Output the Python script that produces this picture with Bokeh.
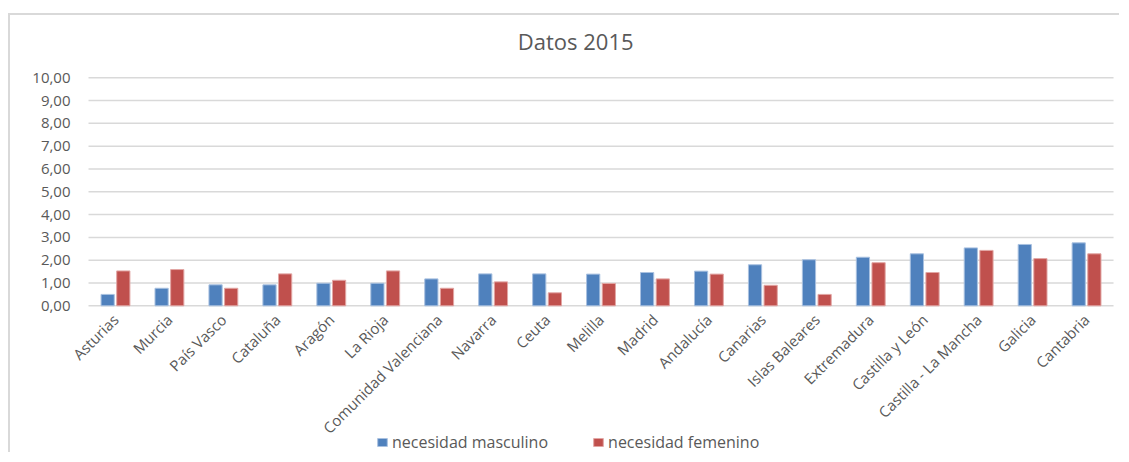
import math
from bokeh.plotting import figure
from bokeh.models import (ColumnDataSource, Legend, LegendItem, FixedTicker,
                          CustomJSTickFormatter, Range1d)
from bokeh.core.properties import value
from bokeh.transform import dodge
from bokeh.embed import file_html
from bokeh.resources import INLINE

categories = ["Asturias", "Murcia", "País Vasco", "Cataluña", "Aragón", "La Rioja",
              "Comunidad Valenciana", "Navarra", "Ceuta", "Melilla", "Madrid",
              "Andalucía", "Canarias", "Islas Baleares", "Extremadura",
              "Castilla y León", "Castilla - La Mancha", "Galicia", "Cantabria"]
masculino = [0.50, 0.77, 0.92, 0.92, 0.99, 0.99, 1.18, 1.40, 1.40, 1.39, 1.46,
             1.52, 1.80, 2.02, 2.13, 2.28, 2.54, 2.69, 2.76]
femenino = [1.53, 1.59, 0.77, 1.40, 1.12, 1.53, 0.77, 1.05, 0.57, 0.98, 1.18,
            1.39, 0.90, 0.50, 1.89, 1.46, 2.43, 2.07, 2.28]
y_ticks = [0, 1, 2, 3, 4, 5, 6, 7, 8, 9, 10]
series_names = ["necesidad masculino", "necesidad femenino"]
title_text = "Datos 2015"

n = len(categories)
pos = [i + 0.5 for i in range(n)]          # category slot centres
source = ColumnDataSource(dict(cat=categories, pos=pos, m=masculino, f=femenino))
grid_src = ColumnDataSource(dict(y=y_ticks, x0=[0] * len(y_ticks), x1=[n] * len(y_ticks)))

FONT = "Open Sans"
GREY = "#595959"
GRID = "#d9d9d9"

# frame covers the whole canvas; categories occupy 0..19, value 0..10 over 228 px
p = figure(x_range=Range1d(-1.446, 19.148), y_range=Range1d(-6.52, 12.73),
           width=1111, height=439, output_backend="svg", toolbar_location=None,
           min_border_left=0, min_border_right=0, min_border_top=0,
           min_border_bottom=0, margin=(13, 0, 0, 8))
p.styles = {"border-top": "2px solid #d9d9d9", "border-left": "2px solid #d9d9d9"}

# horizontal gridlines (behind the bars)
p.segment(x0="x0", x1="x1", y0="y", y1="y", source=grid_src,
          line_color=GRID, line_width=1.5)

r1 = p.vbar(x=dodge("pos", -0.145), top="m", width=0.245, source=source,
            fill_color="#4F81BD", line_color="#a9c1e0", line_width=1)
r2 = p.vbar(x=dodge("pos", 0.145), top="f", width=0.245, source=source,
            fill_color="#C0504D", line_color="#e2a6a4", line_width=1)

# chart title
p.text(x=[9.03], y=[11.59], text=[title_text], text_align="center",
       text_baseline="middle", text_font=value(FONT), text_font_size="22px",
       text_color=GREY)

p.outline_line_color = None
p.xgrid.visible = False
p.ygrid.visible = False

p.yaxis.fixed_location = 0
p.yaxis.ticker = FixedTicker(ticks=y_ticks)
p.yaxis.formatter = CustomJSTickFormatter(code="return tick.toFixed(2).replace('.', ',');")
p.yaxis.axis_line_color = None
p.yaxis.major_tick_line_color = None
p.yaxis.minor_tick_line_color = None
p.yaxis.major_label_text_font = FONT
p.yaxis.major_label_text_font_size = "15px"
p.yaxis.major_label_text_color = GREY
p.yaxis.major_label_standoff = 12

p.xaxis.fixed_location = 0
p.xaxis.ticker = FixedTicker(ticks=pos)
p.xaxis.formatter = CustomJSTickFormatter(args=dict(cats=categories),
                                          code="return cats[Math.floor(tick)] || '';")
p.xaxis.axis_line_color = None
p.xaxis.major_tick_line_color = None
p.xaxis.minor_tick_line_color = None
p.xaxis.major_label_orientation = math.pi / 4
p.xaxis.major_label_text_font = FONT
p.xaxis.major_label_text_font_size = "15px"
p.xaxis.major_label_text_color = GREY
p.xaxis.major_label_standoff = 5

legend = Legend(items=[LegendItem(label=series_names[0], renderers=[r1]),
                       LegendItem(label=series_names[1], renderers=[r2])],
                orientation="horizontal", location=(366, 1),
                glyph_width=12, glyph_height=10, label_standoff=4, spacing=44,
                padding=0, margin=0, border_line_color=None,
                background_fill_alpha=0, label_text_font=FONT,
                label_text_font_size="16px", label_text_color=GREY,
                label_height=20)
p.add_layout(legend)

open("out.html", "w").write(file_html(p, INLINE))
